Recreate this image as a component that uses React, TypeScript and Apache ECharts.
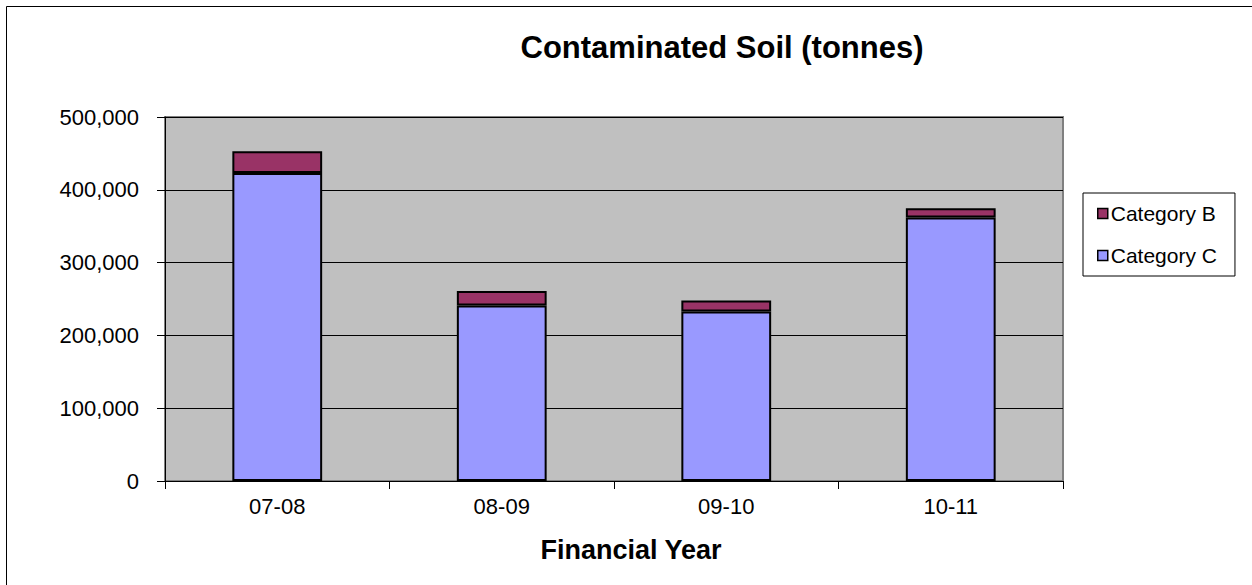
import React, { useEffect, useRef } from "react";
import * as echarts from "echarts";

const categories = ["07-08", "08-09", "09-10", "10-11"];
const categoryC = [423000, 241000, 233000, 362000];
const categoryB = [30000, 20000, 15000, 12500];
const yTicks = [0, 100000, 200000, 300000, 400000, 500000];

const FONT = "'Liberation Sans', Arial, sans-serif";

export default function App() {
  const ref = useRef<HTMLDivElement>(null);
  useEffect(() => {
    if (!ref.current) return;
    const chart = echarts.init(ref.current, null, { renderer: "svg" });
    chart.setOption({
      animation: false,
      backgroundColor: "#ffffff",
      textStyle: { fontFamily: FONT },
      grid: {
        left: 165,
        right: 189,
        top: 117,
        bottom: 104,
        show: true,
        backgroundColor: "#c0c0c0",
        borderColor: "#808080",
        borderWidth: 2,
      },
      legend: {
        orient: "vertical",
        left: 1083,
        top: 193,
        data: ["Category B", "Category C"],
        icon: "rect",
        itemWidth: 10,
        itemHeight: 10,
        itemGap: 21,
        padding: [10, 18, 10, 14],
        backgroundColor: "#ffffff",
        borderColor: "#000000",
        borderWidth: 1,
        borderRadius: 0,
        itemStyle: { borderColor: "#000", borderWidth: 1.5 },
        textStyle: { fontFamily: FONT, fontSize: 21, color: "#000", padding: [0, 0, 0, -2] },
      },
      xAxis: {
        type: "category",
        data: categories,
        axisLine: { show: true, lineStyle: { color: "#000", width: 1 } },
        axisTick: { show: true, alignWithLabel: false, length: 8, lineStyle: { color: "#000" } },
        axisLabel: { fontFamily: FONT, fontSize: 22, color: "#000", margin: 14 },
        splitLine: { show: false },
      },
      yAxis: {
        type: "value",
        min: yTicks[0],
        max: yTicks[yTicks.length - 1],
        interval: 100000,
        axisLine: { show: true, lineStyle: { color: "#000", width: 1 } },
        axisTick: { show: true, length: 8, lineStyle: { color: "#000" } },
        axisLabel: {
          fontFamily: FONT,
          fontSize: 22,
          color: "#000",
          margin: 26,
          formatter: (v: number) => v.toLocaleString("en-US"),
        },
        splitLine: { show: true, lineStyle: { color: "#000", width: 1 } },
      },
      series: [
        {
          name: "Category C",
          type: "bar",
          stack: "total",
          data: categoryC,
          barWidth: "40%",
          itemStyle: { color: "#9999ff", borderColor: "#000", borderWidth: 2 },
        },
        {
          name: "Category B",
          type: "bar",
          stack: "total",
          data: categoryB,
          barWidth: "40%",
          itemStyle: { color: "#993366", borderColor: "#000", borderWidth: 2 },
        },
      ],
      graphic: [
        {
          type: "line",
          shape: { x1: 6.5, y1: 6.5, x2: 1252, y2: 6.5 },
          style: { stroke: "#000", lineWidth: 1 },
        },
        {
          type: "line",
          shape: { x1: 6.5, y1: 6.5, x2: 6.5, y2: 585 },
          style: { stroke: "#000", lineWidth: 1 },
        },
        {
          type: "text",
          x: 722,
          y: 47,
          style: {
            text: "Contaminated Soil (tonnes)",
            fontFamily: FONT,
            fontSize: 31,
            fontWeight: "bold",
            fill: "#000",
            textAlign: "center",
            textVerticalAlign: "middle",
          },
        },
        {
          type: "text",
          x: 631,
          y: 550,
          style: {
            text: "Financial Year",
            fontFamily: FONT,
            fontSize: 27,
            fontWeight: "bold",
            fill: "#000",
            textAlign: "center",
            textVerticalAlign: "middle",
          },
        },
      ],
    });
    return () => chart.dispose();
  }, []);
  return (
    <div
      ref={ref}
      style={{ position: "absolute", left: 0, top: 0, width: 1252, height: 585 }}
    />
  );
}
